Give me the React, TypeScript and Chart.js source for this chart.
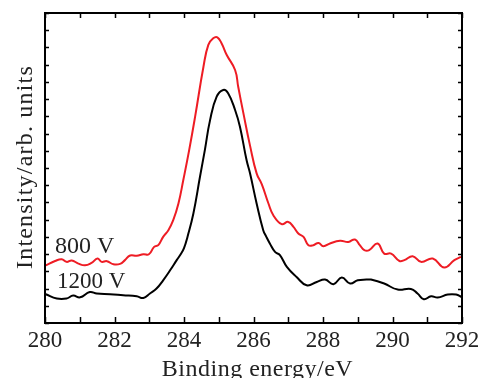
import React, { useEffect, useRef } from "react";
import { Chart, registerables } from "chart.js";

Chart.register(...registerables);

// Binding energy (eV) and intensity (arb. units)
const energy800 = [
  280.02, 280.29, 280.48, 280.62, 280.77, 280.96, 281.15, 281.34, 281.51, 281.63,
  281.78, 281.97, 282.16, 282.30, 282.45, 282.64, 282.83, 282.99, 283.14, 283.26,
  283.40, 283.55, 283.69, 283.84, 283.98, 284.15, 284.32, 284.56, 284.70, 284.84,
  284.96, 285.08, 285.23, 285.47, 285.56, 285.71, 285.90, 286.09, 286.24,
  286.43, 286.57, 286.81, 287.00, 287.15, 287.29, 287.44, 287.58, 287.72, 287.87,
  288.01, 288.20, 288.49, 288.73, 288.92, 289.06, 289.19, 289.33, 289.57, 289.76,
  289.96, 290.20, 290.34, 290.58, 290.82, 291.16, 291.49, 291.78, 291.97,
];
const intensity800 = [
  3.35, 3.60, 3.70, 3.55, 3.63, 3.45, 3.35, 3.49, 3.74, 3.55,
  3.59, 3.41, 3.43, 3.65, 3.92, 3.90, 3.99, 3.99, 4.42, 4.52,
  5.00, 5.39, 5.97, 6.94, 8.30, 10.05, 11.98, 14.88, 16.15, 16.53,
  16.59, 16.24, 15.56, 14.69, 13.72, 12.17, 10.30, 8.69, 8.05,
  6.94, 6.26, 5.74, 5.87, 5.58, 5.20, 5.00, 4.52, 4.52, 4.65,
  4.46, 4.62, 4.77, 4.71, 4.85, 4.52, 4.23, 4.23, 4.62, 4.03,
  4.03, 3.60, 3.65, 3.88, 3.55, 3.74, 3.22, 3.65, 3.84,
];

const energy1200 = [
  280.02, 280.34, 280.62, 280.81, 281.01, 281.29, 281.49, 281.87, 282.25, 282.64,
  282.83, 283.02, 283.21, 283.40, 283.60, 283.79, 283.90, 284.00, 284.10, 284.27,
  284.46, 284.60, 284.75, 284.94, 285.13, 285.27, 285.47, 285.61, 285.80,
  285.90, 286.09, 286.28, 286.37, 286.47, 286.62, 286.76, 286.96, 287.24, 287.53,
  287.82, 288.06, 288.30, 288.54, 288.78, 289.00, 289.25, 289.38, 289.76, 290.15,
  290.53, 290.72, 290.90, 291.11, 291.30, 291.59, 291.83, 291.99,
];
const intensity1200 = [
  1.67, 1.42, 1.42, 1.59, 1.49, 1.80, 1.71, 1.67, 1.61, 1.55,
  1.45, 1.71, 2.00, 2.48, 3.06, 3.65, 3.98, 4.35, 5.00, 6.36,
  8.49, 10.04, 11.78, 13.14, 13.53, 13.34, 12.37, 11.40, 9.46,
  8.69, 6.94, 5.39, 5.00, 4.62, 4.13, 3.94, 3.26, 2.67, 2.19,
  2.38, 2.52, 2.25, 2.64, 2.29, 2.48, 2.52, 2.52, 2.29, 1.94,
  1.98, 1.71, 1.38, 1.55, 1.48, 1.65, 1.65, 1.51,
];

const xTickValues = [280, 282, 284, 286, 288, 290, 292];
const xMin = 280;
const xMax = 292;
const yMin = 0;
const yMax = 18;

const seriesLabels = ["800 V", "1200 V"];
const seriesColors = ["#ee1c24", "#000000"];
const xTitle = "Binding energy/eV";
const yTitle = "Intensity/arb. units";

const FONT = '"Liberation Serif", "Times New Roman", serif';
const TEXT = "#222222";

const decorPlugin = {
  id: "decor",
  afterDatasetsDraw(chart: any) {
    const { ctx, chartArea } = chart;
    const { left, right, top, bottom } = chartArea;
    const xs = chart.scales.x;
    const ys = chart.scales.y;
    ctx.save();
    // frame
    ctx.strokeStyle = "#000";
    ctx.lineWidth = 2;
    ctx.strokeRect(left, top, right - left, bottom - top);
    // ticks inside
    ctx.lineWidth = 1.5;
    ctx.beginPath();
    for (let v = xMin; v <= xMax; v += 1) {
      const px = Math.round(xs.getPixelForValue(v)) + 0.5;
      ctx.moveTo(px, bottom);
      ctx.lineTo(px, bottom - 6);
      ctx.moveTo(px, top);
      ctx.lineTo(px, top + 5);
    }
    for (let v = yMin; v <= yMax; v += 1) {
      const py = Math.round(ys.getPixelForValue(v)) + 0.5;
      ctx.moveTo(left, py);
      ctx.lineTo(left + 4, py);
      ctx.moveTo(right, py);
      ctx.lineTo(right - 4, py);
    }
    ctx.stroke();
    // tick labels
    ctx.fillStyle = TEXT;
    ctx.font = `23px ${FONT}`;
    ctx.textAlign = "center";
    ctx.textBaseline = "alphabetic";
    for (const v of xTickValues) {
      ctx.fillText(String(v), xs.getPixelForValue(v), bottom + 23.5);
    }
    // x title
    ctx.font = `24px ${FONT}`;
    (ctx as any).letterSpacing = "0.5px";
    ctx.fillText(xTitle, (left + right) / 2 + 4, 376);
    // y title
    (ctx as any).letterSpacing = "1.2px";
    ctx.save();
    ctx.translate(32, 167);
    ctx.rotate(-Math.PI / 2);
    ctx.fillText(yTitle, 0, 0);
    ctx.restore();
    (ctx as any).letterSpacing = "0px";
    // series labels
    ctx.textAlign = "left";
    ctx.font = `24px ${FONT}`;
    ctx.fillText(seriesLabels[0], 55, 252.5);
    ctx.font = `23px ${FONT}`;
    ctx.fillText(seriesLabels[1], 57, 287.5);
    ctx.restore();
  },
};

export default function App() {
  const canvasRef = useRef<HTMLCanvasElement | null>(null);

  useEffect(() => {
    if (!canvasRef.current) return;
    const chart = new Chart(canvasRef.current, {
      type: "line",
      data: {
        datasets: [
          {
            label: seriesLabels[0],
            data: energy800.map((x, i) => ({ x, y: intensity800[i] })),
            borderColor: seriesColors[0],
            borderWidth: 2,
            pointRadius: 0,
            tension: 0.45,
          },
          {
            label: seriesLabels[1],
            data: energy1200.map((x, i) => ({ x, y: intensity1200[i] })),
            borderColor: seriesColors[1],
            borderWidth: 2,
            pointRadius: 0,
            tension: 0.45,
          },
        ],
      },
      options: {
        responsive: false,
        animation: false,
        devicePixelRatio: 1,
        layout: { padding: { top: 13, right: 20, left: 0, bottom: 0 } },
        plugins: { legend: { display: false }, tooltip: { enabled: false } },
        scales: {
          x: {
            type: "linear",
            min: xMin,
            max: xMax,
            ticks: { display: false },
            grid: { display: false },
            border: { display: false },
            afterFit: (s: any) => {
              s.height = 55;
            },
          },
          y: {
            type: "linear",
            min: yMin,
            max: yMax,
            ticks: { display: false },
            grid: { display: false },
            border: { display: false },
            afterFit: (s: any) => {
              s.width = 45;
            },
          },
        },
      },
      plugins: [decorPlugin],
    } as any);
    return () => chart.destroy();
  }, []);

  return (
    <div style={{ position: "fixed", left: 0, top: 0, width: 482, height: 378, background: "#fff" }}>
      <canvas ref={canvasRef} width={482} height={378} style={{ display: "block" }} />
    </div>
  );
}
